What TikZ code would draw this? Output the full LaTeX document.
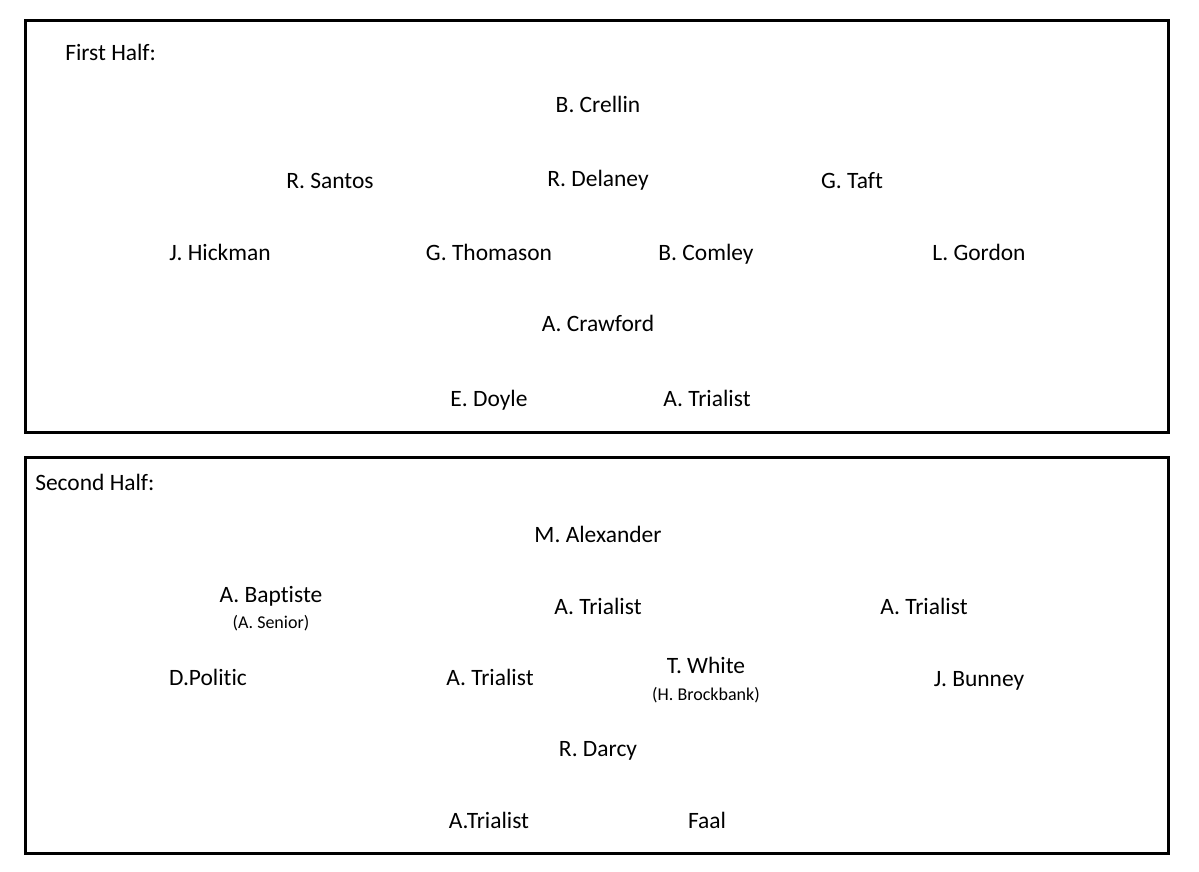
\documentclass[tikz,border=0pt]{standalone}
\usepackage{fontspec}
\setmainfont{Carlito}[Ligatures={NoCommon,NoContextual}]
\begin{document}
\begin{tikzpicture}[x=0.75pt,y=-0.75pt,
  player/.style={anchor=base, inner sep=0pt, font=\fontsize{17.6}{21}\selectfont},
  sub/.style={anchor=base, inner sep=0pt, font=\fontsize{13.5}{16}\selectfont},
  title/.style={anchor=base west, inner sep=0pt, font=\fontsize{17.6}{21}\selectfont},
  frame/.style={draw, line width=2.25pt}]
\useasboundingbox (0,0) rectangle (1199,871);
% first half
\draw[frame] (25.5,20.5) rectangle (1168,432);
\node[title] (first) at (65,60) {First Half:};
\node[player] (crellin) at (598,112) {B. Crellin};
\node[player] (santos) at (330,188) {R. Santos};
\node[player] (delaney) at (598,186) {R. Delaney};
\node[player] (taft) at (852,188) {G. Taft};
\node[player] (hickman) at (220,260) {J. Hickman};
\node[player] (thomason) at (489,260) {G. Thomason};
\node[player] (comley) at (706,260) {B. Comley};
\node[player] (gordon) at (979,260) {L. Gordon};
\node[player] (crawford) at (598,331) {A. Crawford};
\node[player] (doyle) at (489,406) {E. Doyle};
\node[player] (trialA) at (707,406) {A. Trialist};
% second half
\draw[frame] (25.5,457) rectangle (1168,853.5);
\node[title] (second) at (35,490) {Second Half:};
\node[player] (alexander) at (598,542) {M. Alexander};
\node[player] (baptiste) at (271,602) {A. Baptiste};
\node[sub] (senior) at (271,628) {(A. Senior)};
\node[player] (trialB) at (598,614) {A. Trialist};
\node[player] (trialC) at (924,614) {A. Trialist};
\node[player] (politic) at (208,685) {D.Politic};
\node[player] (trialD) at (490,685) {A. Trialist};
\node[player] (white) at (706,673) {T. White};
\node[sub] (brockbank) at (706,700) {(H. Brockbank)};
\node[player] (bunney) at (979,686) {J. Bunney};
\node[player] (darcy) at (598,756) {R. Darcy};
\node[player] (trialE) at (489,828) {A.Trialist};
\node[player] (faal) at (707,828) {Faal};
\end{tikzpicture}
\end{document}
